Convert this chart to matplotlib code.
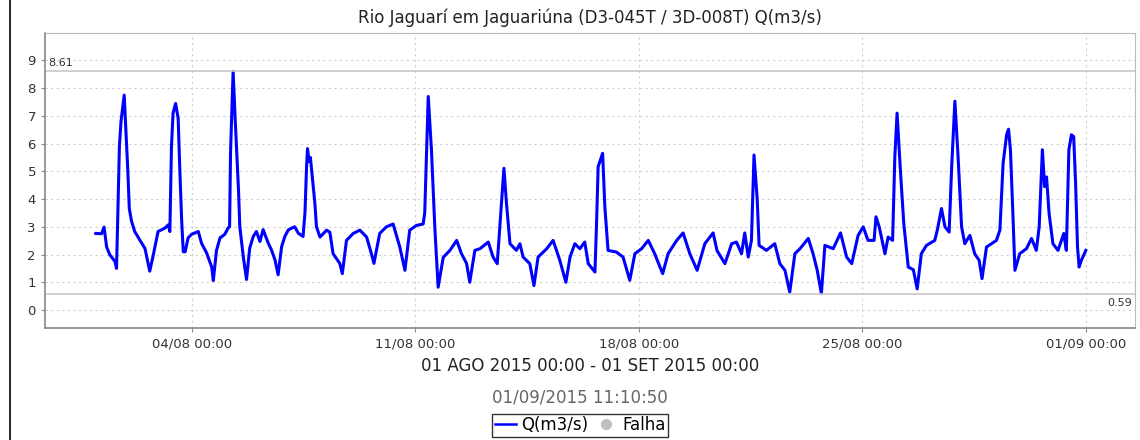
import matplotlib
matplotlib.use("Agg")
import matplotlib.pyplot as plt
import matplotlib.dates as mdates
from matplotlib.lines import Line2D
import pandas as pd

# dias desde 01/08/2015 00:00 e vazao
dias = [0.00, 0.18, 0.26, 0.34, 0.44, 0.60, 0.65, 0.70, 0.74, 0.79, 0.89, 0.95, 1.00, 1.05, 1.12,
        1.22, 1.38, 1.54, 1.69, 1.80, 1.95, 2.16, 2.27, 2.32, 2.37, 2.42, 2.50, 2.58, 2.63, 2.69,
        2.74, 2.80, 2.89, 3.00, 3.21, 3.31, 3.47, 3.63, 3.68, 3.78, 3.89, 4.04, 4.15, 4.19, 4.22,
        4.30, 4.36, 4.47, 4.51, 4.62, 4.72, 4.82, 4.93, 5.03, 5.14, 5.24, 5.40, 5.50, 5.61, 5.71,
        5.82, 5.92, 6.03, 6.13, 6.23, 6.34, 6.49, 6.55, 6.60, 6.63, 6.68, 6.72, 6.86, 6.91, 7.02,
        7.23, 7.33, 7.43, 7.64, 7.72, 7.85, 8.06, 8.27, 8.48, 8.63, 8.71, 8.89, 9.10, 9.31, 9.52,
        9.68, 9.83, 10.04, 10.25, 10.30, 10.41, 10.51, 10.62, 10.72, 10.88, 11.09, 11.30, 11.45,
        11.61, 11.71, 11.87, 12.03, 12.29, 12.44, 12.57, 12.65, 12.78, 12.86, 12.97, 13.17, 13.28,
        13.38, 13.59, 13.72, 13.85, 14.12, 14.32, 14.53, 14.72, 14.85, 15.00, 15.16, 15.31, 15.42,
        15.63, 15.68, 15.73, 15.87, 15.94, 16.04, 16.30, 16.51, 16.72, 16.88, 17.09, 17.30, 17.50,
        17.75, 17.92, 18.19, 18.39, 18.60, 18.83, 19.07, 19.33, 19.45, 19.70, 19.91, 20.06, 20.22,
        20.32, 20.43, 20.53, 20.61, 20.71, 20.77, 21.00, 21.26, 21.42, 21.58, 21.73, 21.89, 22.05,
        22.31, 22.46, 22.59, 22.72, 22.83, 23.09, 23.32, 23.51, 23.67, 23.87, 24.03, 24.18, 24.37,
        24.43, 24.53, 24.71, 24.81, 24.95, 25.02, 25.09, 25.20, 25.30, 25.44, 25.60, 25.72, 25.85,
        26.01, 26.27, 26.35, 26.48, 26.59, 26.72, 26.80, 26.90, 27.00, 27.11, 27.21, 27.37, 27.52,
        27.66, 27.75, 27.89, 28.20, 28.31, 28.41, 28.52, 28.58, 28.64, 28.72, 28.78, 28.93, 29.14,
        29.30, 29.45, 29.54, 29.64, 29.71, 29.77, 29.85, 29.97, 30.13, 30.31, 30.39, 30.47, 30.55,
        30.62, 30.68, 30.74, 30.79, 30.86, 31.00]
vazao = [2.76, 2.75, 2.99, 2.27, 1.99, 1.75, 1.50, 3.96, 5.90, 6.80, 7.75, 6.30, 5.10, 3.65, 3.20,
         2.83, 2.52, 2.22, 1.40, 1.98, 2.83, 2.95, 3.07, 2.83, 5.90, 7.10, 7.45, 6.90, 5.10, 3.20,
         2.10, 2.10, 2.60, 2.73, 2.83, 2.41, 2.06, 1.55, 1.06, 2.15, 2.60, 2.73, 2.97, 3.00, 5.70,
         8.61, 7.00, 4.30, 3.00, 1.91, 1.10, 2.23, 2.65, 2.83, 2.47, 2.90, 2.41, 2.17, 1.81, 1.27,
         2.29, 2.65, 2.89, 2.95, 3.00, 2.77, 2.65, 3.50, 5.17, 5.82, 5.35, 5.50, 3.85, 3.00, 2.63,
         2.88, 2.80, 2.03, 1.68, 1.31, 2.51, 2.76, 2.88, 2.63, 2.03, 1.68, 2.76, 3.00, 3.10, 2.27,
         1.43, 2.88, 3.05, 3.10, 3.50, 7.70, 5.78, 2.88, 0.82, 1.90, 2.15, 2.51, 2.03,
         1.68, 1.00, 2.15, 2.21, 2.45, 1.91, 1.67, 3.00, 5.11, 3.84, 2.39, 2.15, 2.39,
         1.91, 1.67, 0.88, 1.91, 2.21, 2.51, 1.79, 1.00, 1.91, 2.39, 2.21, 2.45, 1.67,
         1.37, 3.12, 5.17, 5.65, 3.72, 2.15, 2.09, 1.91, 1.07, 2.03, 2.21, 2.51, 2.03,
         1.31, 2.03, 2.51, 2.78, 2.03, 1.43, 2.39, 2.78, 2.15, 1.67, 2.39, 2.45, 2.03,
         2.78, 1.91, 2.51, 5.59, 4.00, 2.33, 2.15, 2.39, 1.67, 1.43, 0.64, 2.03, 2.21,
         2.58, 2.03, 1.43, 0.59, 2.33, 2.21, 2.78, 1.91, 1.67, 2.69, 3.00, 2.51, 2.51,
         3.36, 3.00, 2.03, 2.63, 2.51, 5.53, 7.10, 4.93, 3.12, 1.55, 1.45, 0.76, 2.03,
         2.33, 2.51, 2.88, 3.66, 3.00, 2.81, 5.17, 7.53, 5.53, 3.00, 2.39, 2.69, 2.03,
         1.79, 1.13, 2.27, 2.51, 2.88, 5.29, 6.32, 6.52, 5.77, 3.36, 1.43, 2.03, 2.21,
         2.58, 2.15, 3.00, 5.78, 4.45, 4.80, 3.48, 2.39, 2.15, 2.76, 2.15, 5.78, 6.32,
         6.25, 4.57, 2.27, 1.55, 1.79, 2.15]

q_max = 8.61
q_min = 0.59
datas_ticks = ["2015-08-04", "2015-08-11", "2015-08-18", "2015-08-25", "2015-09-01"]

inicio = pd.Timestamp("2015-08-01")
tempo = inicio + pd.to_timedelta(dias, unit="D")

W, H = 1140, 440
fig = plt.figure(figsize=(W / 100, H / 100), dpi=100)
ax = fig.add_axes([45 / W, 1 - 328 / H, (1135 - 45) / W, (328 - 33) / H])

ax.plot(tempo, vazao, color="#0000ff", linewidth=2.2, solid_joinstyle="round")

# linhas de maximo e minimo
ax.axhline(q_max, color="#c8c8c8", linewidth=1.2)
ax.axhline(q_min, color="#c8c8c8", linewidth=1.2)
x0 = inicio - pd.Timedelta(days=1.59)
x1 = pd.Timestamp("2015-09-01") + pd.Timedelta(days=1.54)
ax.set_xlim(x0, x1)
ax.set_ylim(-0.65, 9.99)
ax.text(0.003, q_max + 0.12, "%.2f" % q_max, transform=ax.get_yaxis_transform(),
        fontsize=8, color="#333333", ha="left", va="bottom")
ax.text(0.997, q_min - 0.15, "%.2f" % q_min, transform=ax.get_yaxis_transform(),
        fontsize=8, color="#333333", ha="right", va="top")

ax.set_xticks(pd.to_datetime(datas_ticks))
ax.xaxis.set_major_formatter(mdates.DateFormatter("%d/%m %H:%M"))
ax.set_yticks(range(0, 10))
ax.tick_params(axis="both", labelsize=9.5, color="#888888", length=3, labelcolor="#333333")
ax.grid(True, color="#d0d0d0", linestyle=(0, (2, 3)), linewidth=0.8)
ax.set_axisbelow(True)
for s in ["top", "right"]:
    ax.spines[s].set_color("#bbbbbb")
for s in ["left", "bottom"]:
    ax.spines[s].set_color("#888888")
    ax.spines[s].set_linewidth(1.2)

fig.text(590 / W, 1 - 18 / H, "Rio Jaguarí em Jaguariúna (D3-045T / 3D-008T) Q(m3/s)",
         ha="center", va="center", fontsize=12, color="#222222")
fig.text(590 / W, 1 - 366 / H, "01 AGO 2015 00:00 - 01 SET 2015 00:00",
         ha="center", va="center", fontsize=12, color="#222222")
fig.text(580 / W, 1 - 397 / H, "01/09/2015 11:10:50",
         ha="center", va="center", fontsize=12, color="#666666")

# linha vertical preta a esquerda
fig.add_artist(Line2D([10 / W, 10 / W], [0, 1], color="black", linewidth=1.2,
                      transform=fig.transFigure))

handles = [Line2D([], [], color="#0000ff", linewidth=1.8),
           Line2D([], [], color="#c0c0c0", marker="o", linestyle="none", markersize=7)]
leg = fig.legend(handles, ["Q(m3/s)", "Falha"], loc="center", ncol=2,
                 bbox_to_anchor=(580 / W, 1 - 425 / H), fontsize=12, frameon=True,
                 fancybox=False, edgecolor="black", handlelength=1.3, handletextpad=0.3,
                 columnspacing=0.4, borderpad=0.15, borderaxespad=0)
leg.get_frame().set_linewidth(1.0)

fig.savefig("out.png", dpi=100)
